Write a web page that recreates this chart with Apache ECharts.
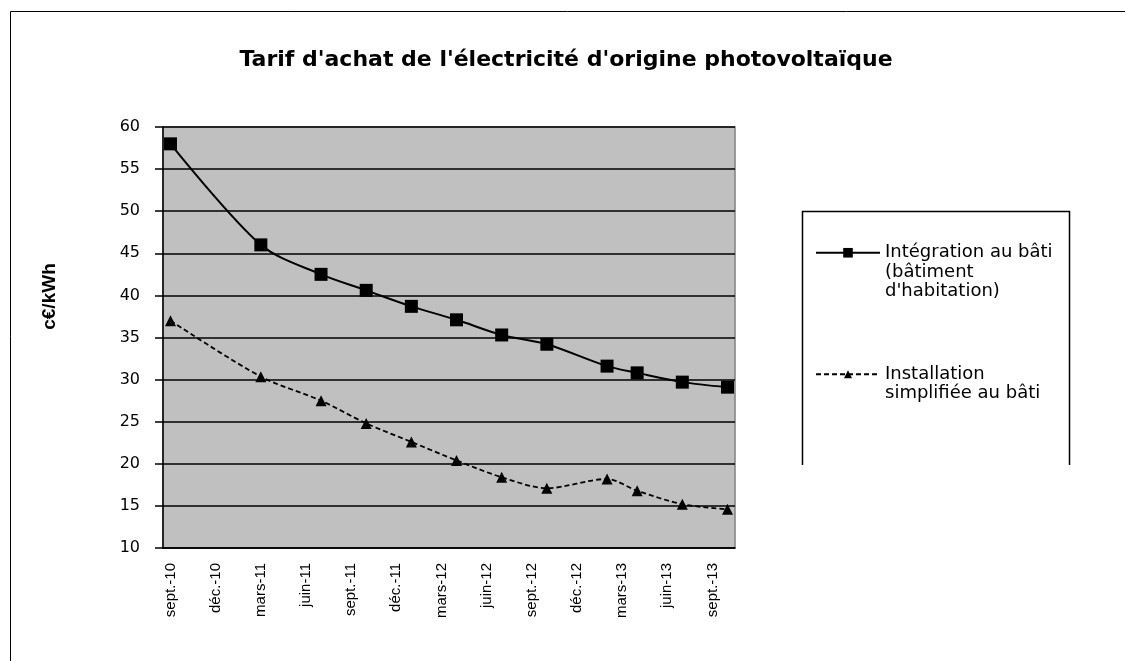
<!DOCTYPE html>
<html>
<head>
<meta charset="utf-8">
<script src="https://cdn.jsdelivr.net/npm/echarts@6/dist/echarts.min.js"></script>
<style>
  html, body { margin: 0; padding: 0; background: #fff; }
</style>
</head>
<body>
<div id="chart" style="width:1125px; height:661px"></div>
<script>
// noms des mois (format Excel mmm-aa)
var monthNames = ["janv.", "févr.", "mars", "avr.", "mai", "juin", "juil.", "août", "sept.", "oct.", "nov.", "déc."];
// axe mensuel de sept.-10 à oct.-13
var months = [];
for (var k = 0; k < 38; k++) {
  var m = (8 + k) % 12;
  var y = 10 + Math.floor((8 + k) / 12);
  months.push(monthNames[m] + "-" + y);
}

// dates des changements de tarif
var dates = ["sept.-10", "mars-11", "juil.-11", "oct.-11", "janv.-12", "avr.-12",
             "juil.-12", "oct.-12", "févr.-13", "avr.-13", "juil.-13", "oct.-13"];
// c€/kWh
var integration = [58, 46, 42.5, 40.6, 38.7, 37.1, 35.3, 34.2, 31.6, 30.8, 29.7, 29.1];
var simplifiee = [37, 30.35, 27.5, 24.8, 22.6, 20.4, 18.4, 17.1, 18.2, 16.8, 15.2, 14.6];

var yTicks = { min: 10, max: 60, step: 5 };

var name1 = "Intégration au bâti (bâtiment d'habitation)";
var name2 = "Installation simplifiée au bâti";
// lignes vides devant pour que le symbole soit en face de la 1re ligne
var legendText = {};
legendText[name1] = "\n\nIntégration au bâti\n(bâtiment\nd'habitation)";
legendText[name2] = "\nInstallation\nsimplifiée au bâti";

function pairs(vals) {
  return dates.map(function (d, i) { return [d, vals[i]]; });
}

var font = "'Liberation Sans', Arial, sans-serif";
var wide = "'DejaVu Sans', sans-serif";
var myChart = echarts.init(document.getElementById("chart"));

myChart.setOption({
  animation: false,
  backgroundColor: "#fff",
  textStyle: { fontFamily: font, color: "#000" },
  title: {
    text: "Tarif d'achat de l'électricité d'origine photovoltaïque",
    left: 561,
    textAlign: "center",
    top: 44,
    textStyle: { fontFamily: wide, fontSize: 22, fontWeight: "bold", color: "#000" }
  },
  graphic: [
    {
      type: "polyline",
      shape: { points: [[10.5, 661], [10.5, 11.5], [1125, 11.5]] },
      style: { fill: "none", stroke: "#000", lineWidth: 1 },
      silent: true
    },
    {
      // cadre de la légende (coupé en bas)
      type: "polyline",
      shape: { points: [[802.5, 465], [802.5, 211.5], [1069.5, 211.5], [1069.5, 465]] },
      style: { fill: "none", stroke: "#000", lineWidth: 1.5 },
      silent: true
    }
  ],
  legend: [
    {
      data: [name1],
      left: 815,
      top: 204,
      padding: 0,
      itemWidth: 64,
      itemHeight: 12,
      formatter: function (n) { return legendText[n]; },
      textStyle: { fontFamily: wide, fontSize: 18, color: "#000", lineHeight: 19.5 }
    },
    {
      data: [name2],
      left: 815,
      top: 345,
      padding: 0,
      itemWidth: 64,
      itemHeight: 10,
      formatter: function (n) { return legendText[n]; },
      textStyle: { fontFamily: wide, fontSize: 18, color: "#000", lineHeight: 19.5 }
    }
  ],
  grid: {
    left: 163,
    right: 390,
    top: 127,
    bottom: 113,
    show: true,
    backgroundColor: "#C0C0C0",
    borderColor: "#808080",
    borderWidth: 1.5
  },
  xAxis: {
    type: "category",
    data: months,
    boundaryGap: true,
    axisLine: { lineStyle: { color: "#000", width: 1.5 } },
    axisTick: { interval: 2, length: 7, lineStyle: { color: "#000", width: 1.5 } },
    axisLabel: {
      interval: 2,
      rotate: 90,
      margin: 15,
      fontFamily: font,
      fontSize: 15,
      color: "#000"
    },
    splitLine: { show: false }
  },
  yAxis: {
    type: "value",
    name: "c€/kWh",
    nameLocation: "middle",
    nameGap: 104,
    nameTextStyle: { fontFamily: font, fontSize: 19, fontWeight: "bold", color: "#000", padding: [0, 0, 0, 82] },
    min: yTicks.min,
    max: yTicks.max,
    interval: yTicks.step,
    axisLine: { show: true, lineStyle: { color: "#000", width: 1.5 } },
    axisTick: { show: true, length: 8, lineStyle: { color: "#000", width: 1.5 } },
    axisLabel: { margin: 23, fontFamily: wide, fontSize: 16, color: "#000" },
    splitLine: { lineStyle: { color: "#000", width: 1.5 } }
  },
  series: [
    {
      name: name1,
      type: "line",
      data: pairs(integration),
      smooth: 0.3,
      showAllSymbol: true,
      symbol: "rect",
      symbolSize: 13,
      itemStyle: { color: "#000" },
      lineStyle: { color: "#000", width: 2 }
    },
    {
      name: name2,
      type: "line",
      data: pairs(simplifiee),
      smooth: 0.3,
      showAllSymbol: true,
      symbol: "triangle",
      symbolSize: 11,
      itemStyle: { color: "#000" },
      lineStyle: { color: "#000", width: 1.8, type: [5, 3] }
    }
  ]
});
</script>
</body>
</html>
